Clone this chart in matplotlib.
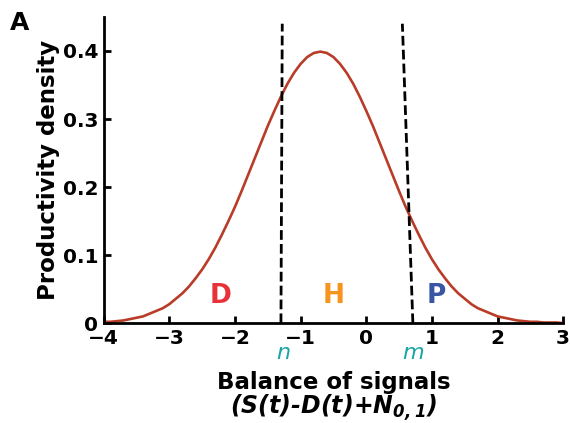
import numpy as np
import matplotlib.pyplot as plt
from matplotlib.transforms import blended_transform_factory

plt.rcParams['mathtext.fontset'] = 'custom'
plt.rcParams['mathtext.it'] = 'DejaVu Sans:italic:bold'
plt.rcParams['mathtext.rm'] = 'DejaVu Sans:italic:bold'

# density curve, x from -4 to 3 in steps of 0.1
x_vals = np.round(np.arange(-4.0, 3.05, 0.1), 1)
density = [0.002, 0.002, 0.003, 0.004, 0.006, 0.008, 0.010, 0.014, 0.018, 0.022,
           0.028, 0.036, 0.044, 0.054, 0.066, 0.079, 0.094, 0.111, 0.130, 0.150,
           0.171, 0.194, 0.218, 0.242, 0.266, 0.290, 0.312, 0.333, 0.352, 0.368,
           0.381, 0.391, 0.397, 0.399, 0.397, 0.391, 0.381, 0.368, 0.352, 0.333,
           0.312, 0.290, 0.266, 0.242, 0.218, 0.194, 0.171, 0.150, 0.130, 0.111,
           0.094, 0.079, 0.066, 0.054, 0.044, 0.036, 0.028, 0.022, 0.018, 0.014,
           0.010, 0.008, 0.006, 0.004, 0.003, 0.002, 0.002, 0.001, 0.001, 0.001,
           0.000]

# threshold lines (x at bottom, x at top), heights
n_line_x = [-1.30, -1.28]
m_line_x = [0.71, 0.55]
line_y = [0.0, 0.44]
threshold_labels = ['n', 'm']
threshold_x = [-1.26, 0.71]

region_labels = ['D', 'H', 'P']
region_x = [-2.22, -0.49, 1.07]
region_colors = ['#e8323a', '#f7941d', '#3a55a4']

xticks = [-4, -3, -2, -1, 0, 1, 2, 3]
yticks = [0, 0.1, 0.2, 0.3, 0.4]
yticklabels = ['0', '0.1', '0.2', '0.3', '0.4']

fig = plt.figure(figsize=(5.7, 4.23), dpi=100)
ax = fig.add_axes([0.182, 0.236, 0.806, 0.724])

ax.plot(x_vals, density, color='#b83c28', linewidth=1.9)
ax.plot(n_line_x, line_y, color='black', linewidth=2, linestyle=(0, (3.5, 1.5)))
ax.plot(m_line_x, line_y, color='black', linewidth=2, linestyle=(0, (3.5, 1.5)))

for lab, xx, cc in zip(region_labels, region_x, region_colors):
    ax.text(xx, 0.04, lab, color=cc, fontsize=19, fontweight='bold',
            ha='center', va='center')

ax.set_xlim(-4, 3)
ax.set_ylim(0, 0.45)
ax.set_xticks(xticks)
ax.set_yticks(yticks)
ax.set_yticklabels(yticklabels)
ax.spines['top'].set_visible(False)
ax.spines['right'].set_visible(False)
ax.spines['left'].set_linewidth(2)
ax.spines['bottom'].set_linewidth(2)
ax.tick_params(direction='in', width=2, length=5, labelsize=14.5, pad=4)
for t in ax.get_xticklabels() + ax.get_yticklabels():
    t.set_fontweight('bold')

trans = blended_transform_factory(ax.transData, ax.transAxes)
for lab, xx in zip(threshold_labels, threshold_x):
    ax.text(xx, -0.118, lab, transform=trans, color='#1aa5a5', fontsize=16,
            fontstyle='italic', ha='center', va='baseline')

ax.set_ylabel('Productivity density', fontsize=16.5, fontweight='bold', labelpad=2)
ax.text(0.5, -0.216, 'Balance of signals', transform=ax.transAxes, fontsize=16.5,
        fontweight='bold', ha='center', va='baseline')
ax.text(0.5, -0.297, r'(S(t)-D(t)+N$_{0,1}$)', transform=ax.transAxes, fontsize=17,
        fontweight='bold', fontstyle='italic', ha='center', va='baseline')

fig.text(0.018, 0.975, 'A', fontsize=18, fontweight='bold', ha='left', va='top')

fig.savefig('out.png', dpi=100)
